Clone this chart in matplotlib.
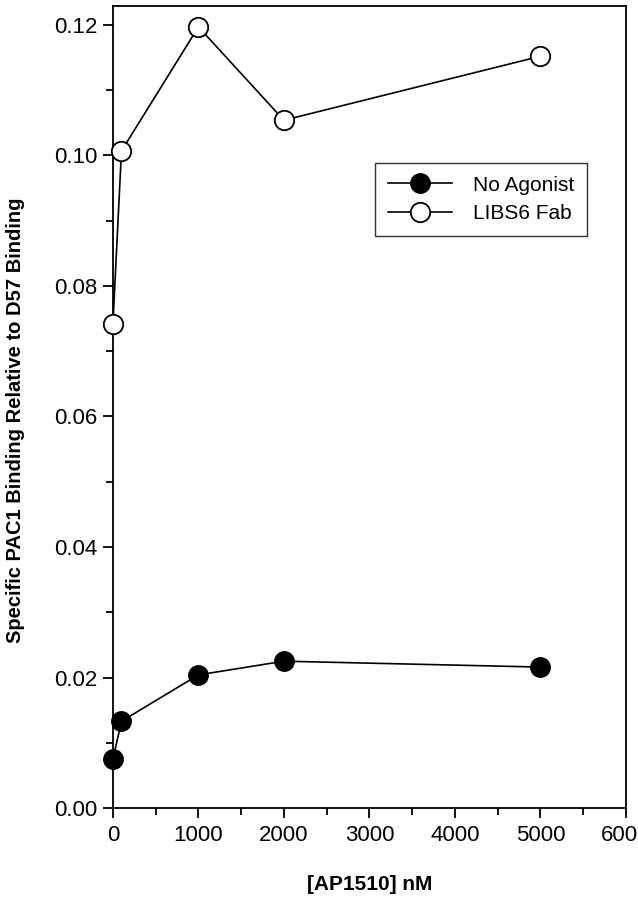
import matplotlib.pyplot as plt
from matplotlib.ticker import MultipleLocator, FormatStrFormatter

plt.rcParams['font.family'] = ['Liberation Sans', 'DejaVu Sans']

# AP1510 concentration (nM)
conc = [0, 100, 1000, 2000, 5000]
no_agonist = [0.0075, 0.0133, 0.0204, 0.0225, 0.0216]
libs6_fab = [0.0742, 0.1007, 0.1197, 0.1054, 0.1152]

fig = plt.figure(figsize=(6.38, 9), dpi=100)
ax = fig.add_axes([0.177, 0.1022, 0.804, 0.8911])

ax.plot(conc, no_agonist, '-o', color='black', markerfacecolor='black',
        markersize=14, linewidth=1.2, clip_on=False, zorder=3, label='No Agonist')
ax.plot(conc, libs6_fab, '-o', color='black', markerfacecolor='white',
        markeredgewidth=1.3, markersize=14, linewidth=1.2, clip_on=False,
        zorder=3, label='LIBS6 Fab')

ax.set_xlim(0, 6000)
ax.set_ylim(0, 0.1229)
ax.xaxis.set_major_locator(MultipleLocator(1000))
ax.xaxis.set_minor_locator(MultipleLocator(500))
ax.yaxis.set_major_locator(MultipleLocator(0.02))
ax.yaxis.set_minor_locator(MultipleLocator(0.01))
ax.yaxis.set_major_formatter(FormatStrFormatter('%.2f'))
ax.tick_params(which='major', length=7, width=1.3, labelsize=16, direction='out')
ax.tick_params(which='minor', length=5, width=1.3, direction='out')
ax.tick_params(axis='x', pad=5)
ax.tick_params(axis='y', pad=4)
for s in ax.spines.values():
    s.set_linewidth(1.3)

ax.set_xlabel('[AP1510] nM', fontsize=15, fontweight='bold', labelpad=21)
ax.set_ylabel('Specific PAC1 Binding Relative to D57 Binding', fontsize=14.5,
              fontweight='bold')
ax.yaxis.set_label_coords(-0.172, 0.484)

leg = ax.legend(loc='upper left', bbox_to_anchor=(0.511, 0.804), fontsize=15,
                frameon=True, fancybox=False, edgecolor='black', handlelength=3.1,
                handletextpad=1.0, borderpad=0.6, labelspacing=0.45,
                borderaxespad=0)
leg.get_frame().set_linewidth(1.0)

fig.savefig('out.png', dpi=100)
